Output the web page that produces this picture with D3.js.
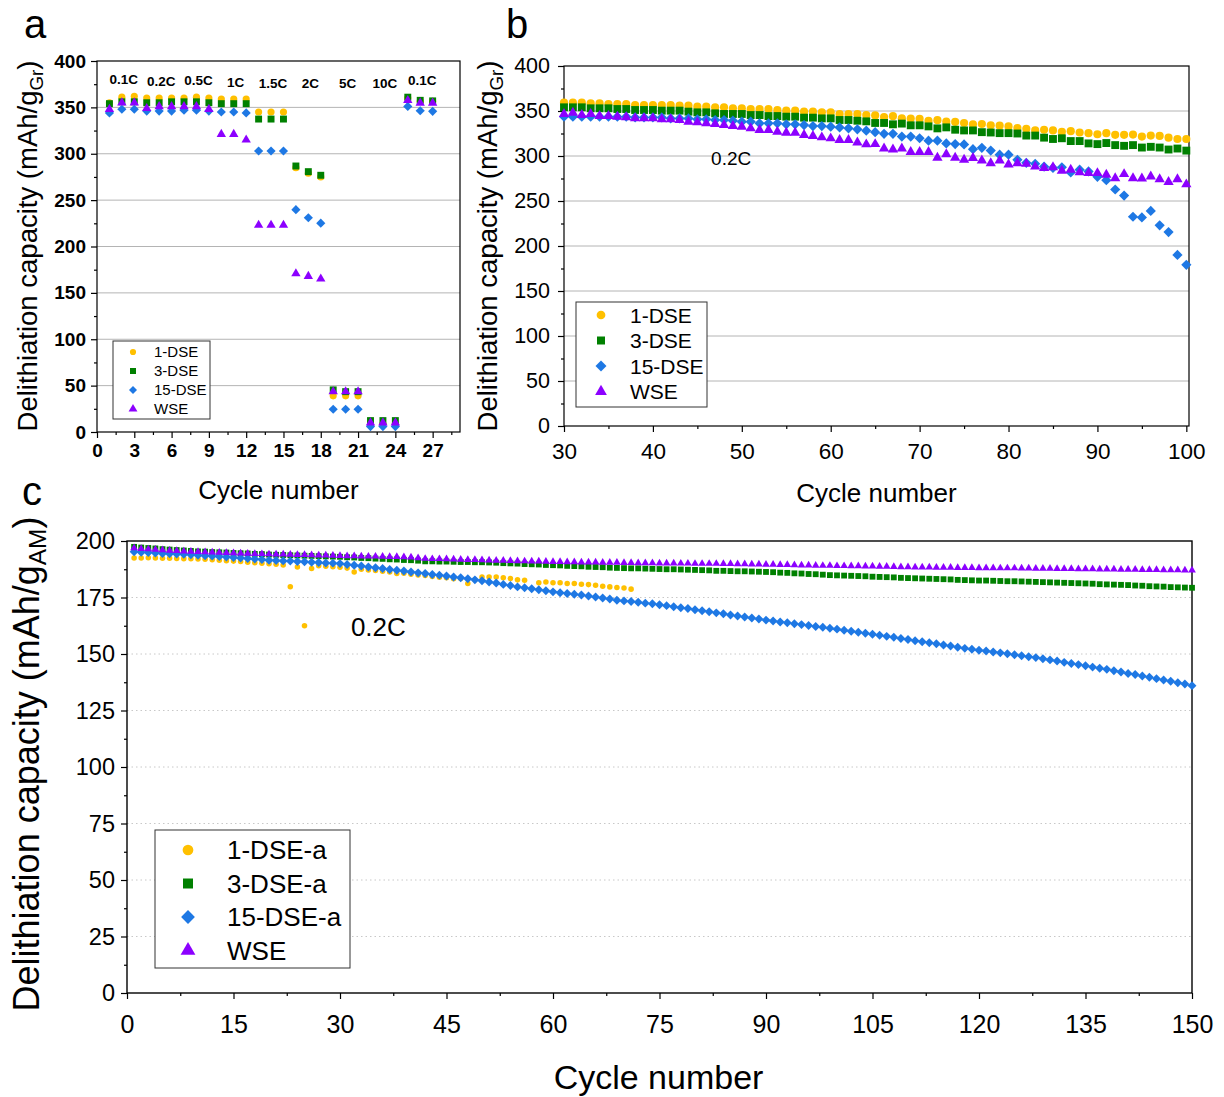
<!DOCTYPE html>
<html>
<head>
<meta charset="utf-8">
<script src="https://cdn.jsdelivr.net/npm/d3@7"></script>
<style>
  body { margin: 0; background: #fff; }
  text { font-family: "Liberation Sans", Arial, sans-serif; fill: #000; }
</style>
</head>
<body>
<svg id="fig" width="1224" height="1097"></svg>
<script>
// ---------- Panel a: rate capability (cycles 1-27) ----------
const aCycles = d3.range(1, 28);
const a1DSE  = [355, 361, 362, 360, 360, 360, 360, 361, 360, 359, 359, 359, 345, 345, 345, 285, 279, 275, 39, 39, 39, 8.6, 8.6, 8.6, 360, 356.5, 356.5];
const a3DSE  = [354, 356, 356, 355, 355, 356, 356, 356, 355, 354, 354, 354, 337.4, 337.4, 337.4, 286.8, 280.7, 276.8, 45.4, 43.5, 43.5, 12.3, 12.3, 12.3, 361, 357.6, 357];
const a15DSE = [344, 348, 348, 346, 346, 346, 347, 347, 346, 345, 345, 344, 303, 303, 303, 239.7, 231, 225.2, 24.5, 24.5, 24.5, 5.8, 5.8, 5.8, 351, 346.4, 345.7];
const aWSE   = [348, 355, 355, 349, 351, 351, 351, 351, 348, 321, 321, 315, 223, 223, 223, 170.8, 167.9, 165.1, 43.6, 43.6, 43.6, 10, 10, 10, 357.6, 354.7, 354.7];
const aRates = ["0.1C", "0.2C", "0.5C", "1C", "1.5C", "2C", "5C", "10C", "0.1C"];
const aXTicks = [0, 3, 6, 9, 12, 15, 18, 21, 24, 27];
const abYTicks = [0, 50, 100, 150, 200, 250, 300, 350, 400];

// ---------- Panel b: cycling at 0.2C (cycles 30-100) ----------
const bCycles = d3.range(30, 101);
const b1DSE = [359.3, 359.3, 359.3, 358.5, 358.5, 357.8, 357.8, 357.8, 356.7, 356.7,
  356.7, 356.7, 356.7, 355.9, 355.9, 354.8, 354.8, 354.1, 354.1, 353.0,
  353.0, 352.2, 352.2, 352.2, 351.1, 350.4, 350.4, 349.3, 349.3, 348.5,
  348.5, 346.7, 346.7, 346.7, 345.5,
  345.1, 343.2, 344.3, 342.0, 341.7, 341.3, 339.0, 339.8, 338.3, 337.9,
  336.7, 335.2, 335.6, 334.1, 333.7, 332.9, 331.0, 330.3, 328.4, 329.2,
  328.4, 326.9, 327.6, 326.1, 325.4, 324.2, 325.4, 323.5, 323.5, 323.8,
  321.6, 322.7, 322.3, 320.4, 318.9, 318.9];
const b3DSE = [354.1, 354.1, 354.1, 353.0, 353.0, 353.0, 352.2, 352.2, 351.1, 351.1,
  351.1, 350.4, 350.4, 350.4, 349.3, 348.5, 348.5, 347.4, 346.7, 346.7,
  346.7, 345.5, 345.5, 344.4, 344.4, 343.7, 343.7, 342.6, 342.6, 341.8,
  341.8, 340.0, 340.0, 339.2, 338.5,
  336.7, 336.7, 335.2, 336.0, 334.1, 334.1, 332.9, 330.7, 331.8, 329.2,
  328.4, 328.4, 326.5, 326.1, 325.4, 325.4, 325.0, 322.7, 322.7, 320.4,
  318.9, 319.7, 316.6, 316.6, 314.0, 313.2, 314.4, 312.1, 311.3, 312.1,
  309.4, 310.2, 309.4, 307.2, 308.3, 306.0];
const b15DSE = [343.7, 343.7, 343.7, 343.7, 343.7, 343.7, 343.7, 343.7, 342.9, 342.9,
  342.9, 342.9, 341.8, 341.8, 341.8, 340.7, 340.7, 340.0, 340.0, 339.2,
  338.1, 338.1, 336.3, 336.3, 336.3, 335.2, 335.2, 334.4, 333.3, 333.3,
  332.6, 331.8, 330.7, 329.6, 328.1,
  326.5, 324.6, 324.6, 321.6, 321.6, 319.7, 317.0, 317.0, 314.0, 313.2,
  312.9, 307.6, 309.1, 306.0, 301.5, 301.5, 295.8, 292.4, 291.3, 288.2,
  286.7, 287.5, 281.8, 284.8, 282.9, 276.9, 273.1, 262.8, 256.0, 232.5,
  231.8, 239.0, 223.0, 215.5, 190.1, 179.1];
const bWSE = [346.7, 348.1, 345.5, 346.7, 344.4, 344.4, 343.7, 343.0, 341.8, 341.8,
  341.8, 340.7, 340.7, 340.0, 338.1, 337.4, 336.3, 335.5, 334.4, 333.3,
  332.6, 330.7, 328.9, 328.9, 327.0, 325.9, 325.9, 323.3, 322.2, 320.7,
  319.6, 317.7, 317.7, 315.1, 312.9,
  313.2, 308.3, 307.2, 308.3, 304.5, 304.5, 304.5, 298.1, 301.9, 298.1,
  295.8, 297.7, 295.0, 292.0, 295.0, 290.5, 292.0, 291.3, 288.2, 286.7,
  287.5, 283.7, 284.8, 281.8, 281.0, 281.0, 279.1, 275.3, 279.9, 275.3,
  275.0, 277.2, 274.2, 271.2, 274.2, 268.5];
const bXTicks = [30, 40, 50, 60, 70, 80, 90, 100];

// ---------- Panel c: long-term cycling (cycles 1-150) ----------
const cCycles = d3.range(1, 151);
const c1DSEa = [192.5, 192.5, 192.6, 192.5, 192.4, 192.4, 192.3, 192.2, 192.1, 192.0,
  191.9, 191.7, 191.5, 191.3, 191.1, 190.9, 190.6, 190.4, 190.2, 189.9,
  189.7, 189.4, 179.8, 188.5, 162.5, 187.8, 189.0, 188.8, 188.6, 188.4,
  188.0, 186.3, 187.5, 187.2, 186.9, 186.6, 186.3, 185.6, 185.7, 185.3,
  185.0, 184.7, 184.3, 184.0, 183.7, 183.3, 183.4, 181.2, 182.8, 184.1,
  184.1, 184.1, 183.7, 183.4, 182.8, 182.6, null, 181.5, 181.9, 181.5,
  181.5, 181.2, 181.2, 180.9, 180.7, 180.4, 180.0, 179.7, 179.4, 179.2,
  178.7];
const c3DSEa = [197.4, 197.1, 196.9, 196.7, 196.4, 196.2, 196.0, 195.8, 195.6, 195.4,
  195.3, 195.1, 195.0, 194.9, 194.7, 194.6, 194.5, 194.3, 194.2, 194.0,
  193.9, 193.8, 193.7, 193.6, 193.5, 193.4, 193.3, 193.2, 193.1, 193.0,
  192.8, 192.7, 192.5, 192.4, 192.2, 192.1, 191.9, 191.8, 191.6, 191.5,
  191.3, 191.0, 191.0, 190.9, 190.9, 190.8, 190.7, 190.7, 190.6, 190.6,
  190.5, 190.4, 190.2, 190.1, 190.0, 189.8, 189.7, 189.6, 189.4, 189.3,
  189.2, 189.0, 188.9, 188.8, 188.6, 188.5, 188.4, 188.2, 188.1, 188.0,
  187.9, 187.9, 187.8, 187.7, 187.6, 187.5, 187.5, 187.4, 187.3, 187.2,
  187.1, 187.0, 186.8, 186.8, 186.7, 186.6, 186.6, 186.5, 186.4, 186.3,
  186.2, 186.0, 185.9, 185.7, 185.6, 185.4, 185.3, 185.1, 184.9, 184.8,
  184.7, 184.6, 184.5, 184.4, 184.2, 184.1, 184.0, 183.9, 183.7, 183.6,
  183.5, 183.4, 183.3, 183.2, 183.1, 183.0, 182.8, 182.7, 182.6, 182.5,
  182.5, 182.4, 182.3, 182.2, 182.2, 182.1, 182.0, 181.9, 181.8, 181.7,
  181.6, 181.5, 181.4, 181.3, 181.2, 181.1, 180.9, 180.8, 180.7, 180.6,
  180.5, 180.3, 180.2, 180.0, 179.9, 179.8, 179.6, 179.5, 179.4, 179.3];
const c15DSEa = [195.2, 195.0, 194.9, 194.7, 194.5, 194.4, 194.2, 194.1, 193.9, 193.7,
  193.5, 193.3, 193.1, 192.9, 192.7, 192.5, 192.3, 192.0, 191.8, 191.5,
  191.4, 191.2, 191.1, 190.9, 190.8, 190.6, 190.5, 190.3, 190.2, 190.0,
  189.6, 189.3, 188.9, 188.5, 188.2, 187.8, 187.4, 187.1, 186.7, 186.3,
  185.9, 185.6, 185.2, 184.9, 184.5, 184.1, 183.7, 183.3, 182.8, 182.4,
  181.9, 181.4, 180.8, 180.3, 179.7, 179.3, 178.9, 178.4, 178.0, 177.5,
  177.1, 176.8, 176.4, 176.1, 175.7, 175.2, 174.8, 174.3, 173.8, 173.5,
  173.2, 172.9, 172.5, 172.2, 171.8, 171.4, 170.9, 170.5, 170.1, 169.6,
  169.1, 168.7, 168.2, 167.8, 167.3, 166.8, 166.4, 165.9, 165.5, 165.0,
  164.6, 164.2, 163.8, 163.4, 163.0, 162.6, 162.2, 161.8, 161.4, 161.0,
  160.5, 160.1, 159.6, 159.2, 158.7, 158.3, 157.8, 157.4, 156.9, 156.4,
  155.9, 155.4, 155.0, 154.5, 154.0, 153.5, 153.0, 152.5, 152.1, 151.7,
  151.3, 150.9, 150.5, 150.1, 149.7, 149.2, 148.8, 148.4, 147.9, 147.4,
  146.9, 146.3, 145.8, 145.3, 144.8, 144.2, 143.7, 143.2, 142.6, 142.0,
  141.4, 140.9, 140.3, 139.7, 139.1, 138.5, 137.9, 137.3, 136.7, 136.0];
const cWSE = [196.9, 196.6, 196.4, 196.2, 196.0, 195.8, 195.7, 195.5, 195.4, 195.2,
  195.1, 195.0, 194.9, 194.8, 194.7, 194.6, 194.5, 194.4, 194.3, 194.2,
  194.1, 194.1, 194.0, 193.9, 193.9, 193.8, 193.7, 193.7, 193.6, 193.5,
  193.4, 193.4, 193.3, 193.2, 193.2, 193.1, 193.0, 193.0, 192.9, 192.8,
  192.5, 192.2, 192.1, 192.1, 192.0, 191.9, 191.8, 191.7, 191.7, 191.6,
  191.5, 191.4, 191.4, 191.3, 191.2, 191.1, 191.0, 191.0, 190.9, 190.8,
  190.8, 190.7, 190.7, 190.6, 190.6, 190.6, 190.5, 190.5, 190.5, 190.4,
  190.4, 190.3, 190.3, 190.3, 190.2, 190.2, 190.2, 190.1, 190.1, 190.0,
  190.0, 190.0, 190.0, 189.9, 189.9, 189.8, 189.8, 189.7, 189.7, 189.6,
  189.6, 189.5, 189.5, 189.4, 189.3, 189.3, 189.2, 189.1, 189.1, 189.0,
  189.0, 188.9, 188.9, 188.8, 188.8, 188.7, 188.7, 188.6, 188.5, 188.5,
  188.4, 188.4, 188.4, 188.3, 188.3, 188.3, 188.2, 188.2, 188.2, 188.1,
  188.1, 188.1, 188.0, 188.0, 188.0, 187.9, 187.9, 187.8, 187.8, 187.8,
  187.7, 187.7, 187.7, 187.6, 187.6, 187.6, 187.5, 187.5, 187.5, 187.4,
  187.4, 187.4, 187.3, 187.3, 187.3, 187.2, 187.2, 187.2, 187.1, 187.1];
const cXTicks = [0, 15, 30, 45, 60, 75, 90, 105, 120, 135, 150];
const cYTicks = [0, 25, 50, 75, 100, 125, 150, 175, 200];

// ---------- styling ----------
const COLORS = { y: "#FFC000", g: "#008000", b: "#1E78E4", p: "#8C00FF" };
const SHAPES = { y: "circle", g: "square", b: "diamond", p: "triangle" };

const svg = d3.select("#fig");

function symbolPath(shape, area) {
  const type = shape === "circle" ? d3.symbolCircle
    : shape === "triangle" ? d3.symbolTriangle : d3.symbolSquare;
  return d3.symbol(type, area)();
}

function drawMarker(g, shape, color, area, cx, cy) {
  g.append("path")
    .attr("d", symbolPath(shape, area))
    .attr("fill", color)
    .attr("transform", `translate(${cx},${cy})` + (shape === "diamond" ? " rotate(45)" : ""));
}

function panel(o) {
  const g = svg.append("g");
  const x = d3.scaleLinear().domain(o.xDom).range([o.left, o.right]);
  const y = d3.scaleLinear().domain(o.yDom).range([o.bottom, o.top]);

  // horizontal gridlines
  g.append("g").selectAll("line")
    .data(o.yTicks.filter(v => v > o.yDom[0] && v < o.yDom[1]))
    .join("line")
    .attr("x1", o.left).attr("x2", o.right)
    .attr("y1", d => y(d)).attr("y2", d => y(d))
    .attr("stroke", o.gridColor)
    .attr("stroke-width", 1)
    .attr("stroke-dasharray", o.gridDash || null);

  // minor ticks
  g.append("g").attr("transform", `translate(0,${o.bottom})`)
    .call(d3.axisBottom(x).tickValues(o.xMinor).tickSize(3).tickFormat(""))
    .call(s => s.select(".domain").remove());
  g.append("g").attr("transform", `translate(${o.left},0)`)
    .call(d3.axisLeft(y).tickValues(o.yMinor).tickSize(3).tickFormat(""))
    .call(s => s.select(".domain").remove());

  // major axes
  const xa = g.append("g").attr("transform", `translate(0,${o.bottom})`)
    .call(d3.axisBottom(x).tickValues(o.xTicks).tickSize(6).tickPadding(o.xPad));
  const ya = g.append("g").attr("transform", `translate(${o.left},0)`)
    .call(d3.axisLeft(y).tickValues(o.yTicks).tickSize(6).tickPadding(o.yPad));
  [[xa, o.xTickFont], [ya, o.yTickFont]].forEach(([a, fs]) => {
    a.selectAll("text")
      .style("font-family", '"Liberation Sans", Arial, sans-serif')
      .style("font-size", fs + "px")
      .style("font-weight", o.tickWeight)
      .attr("fill", "#000");
    a.select(".domain").remove();
  });
  g.selectAll(".tick line").attr("stroke", "#000").attr("stroke-width", 1.2);

  // frame
  g.append("rect")
    .attr("x", o.left).attr("y", o.top)
    .attr("width", o.right - o.left).attr("height", o.bottom - o.top)
    .attr("fill", "none").attr("stroke", "#000").attr("stroke-width", o.frameW);

  // series markers
  o.series.forEach(s => {
    const sg = g.append("g");
    o.xs.forEach((cx, i) => {
      const v = s.values[i];
      if (v == null) return;
      drawMarker(sg, SHAPES[s.key], COLORS[s.key], o.sizes[s.key], x(cx), y(v));
    });
  });

  // axis titles
  g.append("text")
    .attr("x", (o.left + o.right) / 2 + o.xTitleDx).attr("y", o.xTitleY)
    .attr("text-anchor", "middle")
    .style("font-size", o.xTitleFont + "px")
    .text("Cycle number");

  const yt = g.append("text")
    .attr("transform", `translate(${o.yTitleX},${o.yTitleCy}) rotate(-90)`)
    .attr("text-anchor", "middle")
    .style("font-size", o.yTitleFont + "px");
  yt.append("tspan").text("Delithiation capacity (mAh/g");
  yt.append("tspan").attr("dy", "0.3em").style("font-size", (o.yTitleFont * 0.68) + "px").text(o.sub);
  yt.append("tspan").attr("dy", "-0.2em").text(")");

  // panel letter
  g.append("text")
    .attr("x", o.letterX).attr("y", o.letterY)
    .style("font-size", "40px")
    .text(o.letter);

  // legend
  const L = o.legend;
  g.append("rect")
    .attr("x", L.x).attr("y", L.y).attr("width", L.w).attr("height", L.h)
    .attr("fill", "#fff").attr("stroke", "#333").attr("stroke-width", 1);
  o.series.forEach((s, i) => {
    const cy = L.y + L.first + i * L.step;
    drawMarker(g, SHAPES[s.key], COLORS[s.key], L.sizes[s.key], L.x + L.mx, cy);
    g.append("text")
      .attr("x", L.x + L.tx).attr("y", cy)
      .attr("dy", "0.36em")
      .style("font-size", L.font + "px")
      .text(s.name);
  });

  return { g, x, y };
}

// ---------- Panel a ----------
const pa = panel({
  letter: "a", letterX: 24, letterY: 38,
  left: 97, right: 460, top: 61, bottom: 432,
  xDom: [0, 29.2], yDom: [0, 400],
  xTicks: aXTicks, yTicks: abYTicks,
  xMinor: d3.range(1.5, 29, 3), yMinor: d3.range(25, 400, 50),
  gridColor: "#b4b4b4", frameW: 1.2,
  xTickFont: 19, yTickFont: 19, tickWeight: "bold", xPad: 6, yPad: 5,
  xTitleFont: 26, yTitleFont: 27.5, xTitleY: 499, xTitleDx: 0,
  yTitleX: 37, yTitleCy: 246, sub: "Gr",
  xs: aCycles,
  sizes: { y: 40, g: 48, b: 42, p: 38 },
  series: [
    { key: "y", name: "1-DSE", values: a1DSE },
    { key: "g", name: "3-DSE", values: a3DSE },
    { key: "b", name: "15-DSE", values: a15DSE },
    { key: "p", name: "WSE", values: aWSE }
  ],
  legend: { x: 113, y: 341, w: 97, h: 78, first: 11, step: 19, mx: 20, tx: 41, font: 15,
            sizes: { y: 30, g: 36, b: 32, p: 34 } }
});

// rate labels above each group of three cycles
aRates.forEach((label, i) => {
  const idx = d3.range(i * 3, i * 3 + 3);
  const mid = aCycles[i * 3 + 1];
  const top = d3.max(idx, j => Math.max(a1DSE[j], a3DSE[j], a15DSE[j], aWSE[j]));
  const lift = label === "2C" ? 17 : 12;
  pa.g.append("text")
    .attr("x", pa.x(mid) + 2)
    .attr("y", Math.min(pa.y(top) - lift, 88))
    .attr("text-anchor", "middle")
    .style("font-size", "13.5px")
    .style("font-weight", "bold")
    .text(label);
});

// ---------- Panel b ----------
const pb = panel({
  letter: "b", letterX: 506, letterY: 38,
  left: 564, right: 1189, top: 66, bottom: 426,
  xDom: [30, 100.3], yDom: [0, 400],
  xTicks: bXTicks, yTicks: abYTicks,
  xMinor: d3.range(35, 100, 10), yMinor: d3.range(25, 400, 50),
  gridColor: "#b4b4b4", frameW: 1.2,
  xTickFont: 22.5, yTickFont: 21.5, tickWeight: "normal", xPad: 11, yPad: 8,
  xTitleFont: 26, yTitleFont: 27.5, xTitleY: 502, xTitleDx: 0,
  yTitleX: 497, yTitleCy: 246, sub: "Gr",
  xs: bCycles,
  sizes: { y: 52, g: 62, b: 52, p: 46 },
  series: [
    { key: "y", name: "1-DSE", values: b1DSE },
    { key: "g", name: "3-DSE", values: b3DSE },
    { key: "b", name: "15-DSE", values: b15DSE },
    { key: "p", name: "WSE", values: bWSE }
  ],
  legend: { x: 576, y: 302, w: 131, h: 105, first: 13, step: 25.5, mx: 25, tx: 54, font: 21,
            sizes: { y: 60, g: 64, b: 60, p: 60 } }
});
pb.g.append("text")
  .attr("x", pb.x(48.8)).attr("y", pb.y(290))
  .attr("text-anchor", "middle")
  .style("font-size", "19px")
  .text("0.2C");

// ---------- Panel c ----------
const pc = panel({
  letter: "c", letterX: 22, letterY: 505,
  left: 127, right: 1192, top: 541, bottom: 993,
  xDom: [0, 150], yDom: [0, 200],
  xTicks: cXTicks, yTicks: cYTicks,
  xMinor: d3.range(7.5, 150, 15), yMinor: d3.range(12.5, 200, 25),
  gridColor: "#c8c8c8", gridDash: "1.5,3", frameW: 1.4,
  xTickFont: 25, yTickFont: 23.5, tickWeight: "normal", xPad: 16, yPad: 6,
  xTitleFont: 34, yTitleFont: 36, xTitleY: 1089, xTitleDx: -1,
  yTitleX: 39, yTitleCy: 764, sub: "AM",
  xs: cCycles,
  sizes: { y: 24, g: 34, b: 40, p: 26 },
  series: [
    { key: "y", name: "1-DSE-a", values: c1DSEa },
    { key: "g", name: "3-DSE-a", values: c3DSEa },
    { key: "b", name: "15-DSE-a", values: c15DSEa },
    { key: "p", name: "WSE", values: cWSE }
  ],
  legend: { x: 155, y: 830, w: 195, h: 138, first: 20, step: 33.5, mx: 33, tx: 72, font: 26,
            sizes: { y: 90, g: 100, b: 95, p: 95 } }
});
pc.g.append("text")
  .attr("x", pc.x(35.4)).attr("y", pc.y(158))
  .attr("text-anchor", "middle")
  .style("font-size", "26px")
  .text("0.2C");
</script>
</body>
</html>
